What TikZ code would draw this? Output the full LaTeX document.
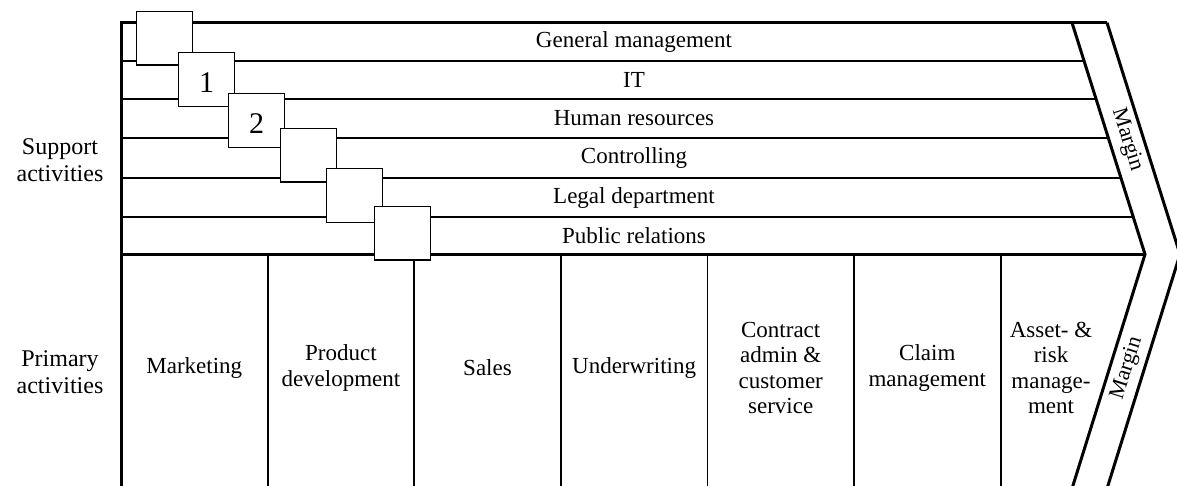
\documentclass[tikz,border=0pt]{standalone}
\usepackage{fontspec}
\setmainfont{Liberation Serif}
\begin{document}
\begin{tikzpicture}[x=1pt,y=-1pt,
  thickline/.style={line width=3pt, line join=miter},
  thinline/.style={line width=1.8pt},
  sq/.style={draw, fill=white, line width=1.3pt, minimum width=56pt, minimum height=53.5pt, inner sep=0pt},
  num/.style={font=\fontsize{30}{30}\selectfont, inner sep=0pt},
  suptxt/.style={font=\fontsize{23}{25}\selectfont, inner sep=0pt},
  pritxt/.style={font=\fontsize{23}{25.5}\selectfont, align=center, inner sep=0pt},
  sidetxt/.style={font=\fontsize{24}{27}\selectfont, align=center, inner sep=0pt},
  margtxt/.style={font=\fontsize{22}{22}\selectfont, inner sep=0pt}]
\useasboundingbox (0,0) rectangle (1177,485);
\clip (0,0) rectangle (1177,485);
% key coordinates
\coordinate (TL) at (121,22.7);
\coordinate (BL) at (121,495);
\coordinate (A) at (1072,22.7);
\coordinate (B) at (1145,254.3);
\coordinate (C) at (1107,22.7);
\coordinate (T) at (1180,254.3);
\coordinate (D) at (1070,495);
\coordinate (E) at (1105,495);
\coordinate (PL) at (121,254.3);
% support row lines
\foreach \y/\x in {60.7/1084.0, 99/1096.0, 137.7/1108.2, 177.7/1120.9, 217.3/1133.3}
  \draw[thinline] (121,\y) -- (\x,\y);
% primary dividers
\foreach \x in {267.6, 414.2, 560.8, 707.4, 854.0, 1000.6}
  \draw[thinline] (\x,254.3) -- (\x,495);
% frame
\draw[thickline] (C) -- (TL) -- (BL);
\draw[thickline] (PL) -- (B);
\draw[thickline] (A) -- (B) -- (D);
\draw[thickline] (C) -- (T) -- (E);
% support texts
\node[suptxt] (gm) at (634,41.7) {General management};
\node[suptxt] (it) at (634,79.9) {IT};
\node[suptxt] (hr) at (634,118.4) {Human resources};
\node[suptxt] (co) at (634,157.7) {Controlling};
\node[suptxt] (ld) at (634,197.5) {Legal department};
\node[suptxt] (pr) at (634,235.8) {Public relations};
% primary texts
\node[pritxt] (mk) at (194.3,368) {Marketing};
\node[pritxt] (pd) at (340.9,368) {Product\\development};
\node[pritxt] (sa) at (487.5,368) {Sales};
\node[pritxt] (uw) at (634.1,368) {Underwriting};
\node[pritxt] (ca) at (780.7,368) {Contract\\admin \&\\customer\\service};
\node[pritxt] (cm) at (927.3,368) {Claim\\management};
\node[pritxt] (ar) at (1051,368) {Asset- \&\\risk\\manage-\\ment};
% side labels
\node[sidetxt] (sup) at (60,160) {Support\\activities};
\node[sidetxt] (pri) at (60,372) {Primary\\activities};
% margins
\node[margtxt, rotate=-72.5] (m1) at (1127,140) {Margin};
\node[margtxt, rotate=72.5] (m2) at (1127,368) {Margin};
% squares
\node[sq] (s1) at (164.7,38.3) {};
\node[sq] (s2) at (206.7,79.5) {};
\node[num] (n1) at (206.7,83) {1};
\node[sq] (s3) at (256.7,120.5) {};
\node[num] (n2) at (256.7,124) {2};
\node[sq] (s4) at (308.7,155.3) {};
\node[sq] (s5) at (354.7,195.5) {};
\node[sq] (s6) at (402.7,233.3) {};
\end{tikzpicture}
\end{document}
